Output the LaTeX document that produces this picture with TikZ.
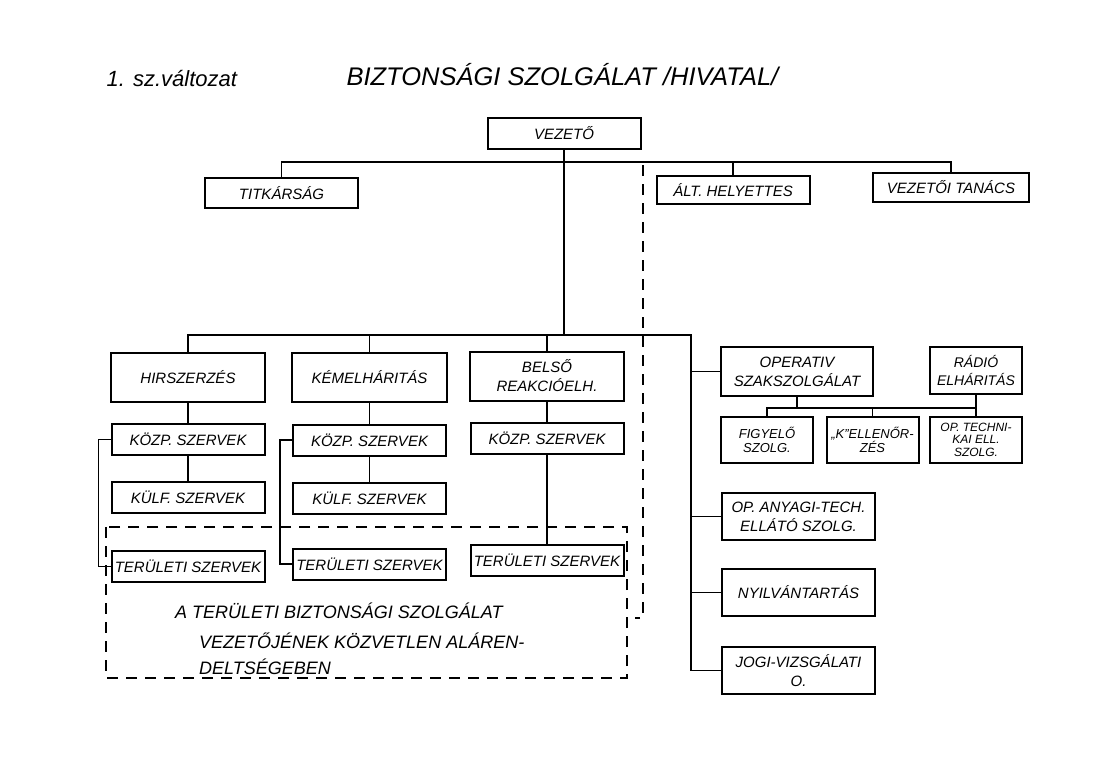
\documentclass[tikz,border=0pt]{standalone}
\usepackage{fontspec}
\setmainfont{Liberation Sans}
\usetikzlibrary{positioning}

\begin{document}
\begin{tikzpicture}[x=1pt, y=-1pt]
	\tikzstyle{box} = [draw, line width=2pt, rectangle, inner sep=1pt, align=center, font=\fontsize{15}{19}\selectfont\itshape]
	\tikzstyle{head} = [box, minimum width=154pt, minimum height=49pt]
	\tikzstyle{unit} = [box, minimum width=153pt, minimum height=31pt]
	\tikzstyle{tall} = [box, minimum width=153pt, minimum height=47pt]
	\tikzstyle{small} = [box, minimum width=92pt, minimum height=46pt, font=\fontsize{13}{14}\selectfont\itshape]
	\tikzstyle{line} = [draw, line width=1.1pt]
	\tikzstyle{limit} = [draw, line width=1.1pt, dash pattern=on 11pt off 8pt]
	\tikzstyle{note} = [anchor=base west, inner sep=0pt, font=\fontsize{18}{18}\selectfont\itshape]

	\useasboundingbox [fill=white] (0,0) rectangle (1110,781);

	% cimek
	\node [anchor=west, font=\fontsize{22}{22}\selectfont\itshape] (valt) at (103,79) {1. sz.változat};
	\node [anchor=west, font=\fontsize{25.5}{25.5}\selectfont\itshape] (cim) at (343,75) {BIZTONSÁGI SZOLGÁLAT /HIVATAL/};

	% felso szint
	\node [unit] (vezeto) at (564,133.5) {VEZETŐ};
	\node [unit, minimum height=30pt] (titkar) at (281.5,193) {TITKÁRSÁG};
	\node [unit, minimum height=28pt] (alt) at (733,190) {ÁLT. HELYETTES};
	\node [unit, minimum width=156pt, minimum height=29pt] (tanacs) at (951,187.5) {VEZETŐI TANÁCS};
	\coordinate (felso) at (564,162);
	\coordinate (also) at (564,335);
	\coordinate (jobb) at (691,335);

	% oszlopok
	\node [head] (hir) at (188,377.5) {HIRSZERZÉS};
	\node [unit, below=20pt of hir] (kozp1) {KÖZP. SZERVEK};
	\node [unit, below=25pt of kozp1] (kulf1) {KÜLF. SZERVEK};
	\node [unit, below=36pt of kulf1] (ter1) {TERÜLETI SZERVEK};

	\node [head, minimum width=155pt] (kem) at (369.5,377) {KÉMELHÁRITÁS};
	\node [unit, below=21pt of kem] (kozp2) {KÖZP. SZERVEK};
	\node [unit, below=25pt of kozp2] (kulf2) {KÜLF. SZERVEK};
	\node [unit, below=33pt of kulf2] (ter2) {TERÜLETI SZERVEK};

	\node [head] (belso) at (547,376) {BELSŐ\\REAKCIÓELH.};
	\node [unit, below=20pt of belso] (kozp3) {KÖZP. SZERVEK};
	\node [unit, below=89pt of kozp3] (ter3) {TERÜLETI SZERVEK};

	% jobb oldal
	\node [tall, minimum width=152pt, minimum height=49pt] (oper) at (797,371.5) {OPERATIV\\SZAKSZOLGÁLAT};
	\node [small, minimum height=47pt, font=\fontsize{14}{18}\selectfont\itshape] (radio) at (976,370.5) {RÁDIÓ\\ELHÁRITÁS};
	\node [small] (figy) at (767,440) {FIGYELŐ\\SZOLG.};
	\node [small] (kell) at (872.5,439.5) {„K”ELLENŐR-\\ZÉS};
	\node [small, font=\fontsize{12}{12.5}\selectfont\itshape] (optech) at (976,439.5) {OP. TECHNI-\\KAI ELL.\\SZOLG.};
	\coordinate (elag) at (797,408);

	\node [tall] (anyagi) at (798.5,516.5) {OP. ANYAGI-TECH.\\ELLÁTÓ SZOLG.};
	\node [tall, below=27pt of anyagi] (nyilv) {NYILVÁNTARTÁS};
	\node [tall, below=29pt of nyilv] (jogi) {JOGI-VIZSGÁLATI\\O.};

	% teruleti szervek
	\draw [limit] (106,527) rectangle (627,678);
	\coordinate (szaggat) at (643,165);
	\path [limit] (szaggat) -- ++(0,453) -- ++(-8,0);
	\node [note] (megj1) at (175,618) {A TERÜLETI BIZTONSÁGI SZOLGÁLAT};
	\node [note] (megj2) at (199,648) {VEZETŐJÉNEK KÖZVETLEN ALÁREN-};
	\node [note] (megj3) at (199,674) {DELTSÉGEBEN};

	% vonalak
	\path [line] (vezeto.south) -- (also);
	\path [line] (titkar.north) |- (felso) -| (tanacs.north);
	\path [line] (alt.north) -- (alt.north |- felso);
	\path [line] (hir.north) |- (jobb) |- (jogi.west);
	\path [line] (kem.north) -- (kem.north |- jobb);
	\path [line] (belso.north) -- (belso.north |- jobb);
	\path [line] (hir) -- (kozp1);
	\path [line] (kozp1) -- (kulf1);
	\path [line] (kem) -- (kozp2);
	\path [line] (kozp2) -- (kulf2);
	\path [line] (belso) -- (kozp3);
	\path [line] (kozp3) -- (ter3);
	\path [line] (kozp1.west) -- ++(-12,0) |- (ter1.west);
	\path [line] (kozp2.west) -- ++(-12,0) |- (ter2.west);
	\path [line] (oper.west) -- (oper.west -| jobb);
	\path [line] (anyagi.west) -- (anyagi.west -| jobb);
	\path [line] (nyilv.west) -- (nyilv.west -| jobb);
	\path [line] (oper.south) -- (elag);
	\path [line] (figy.north) |- (elag) -| (optech.north);
	\path [line] (kell.north) -- (kell.north |- elag);
	\path [line] (radio.south) -- (optech.north);
\end{tikzpicture}
\end{document}
